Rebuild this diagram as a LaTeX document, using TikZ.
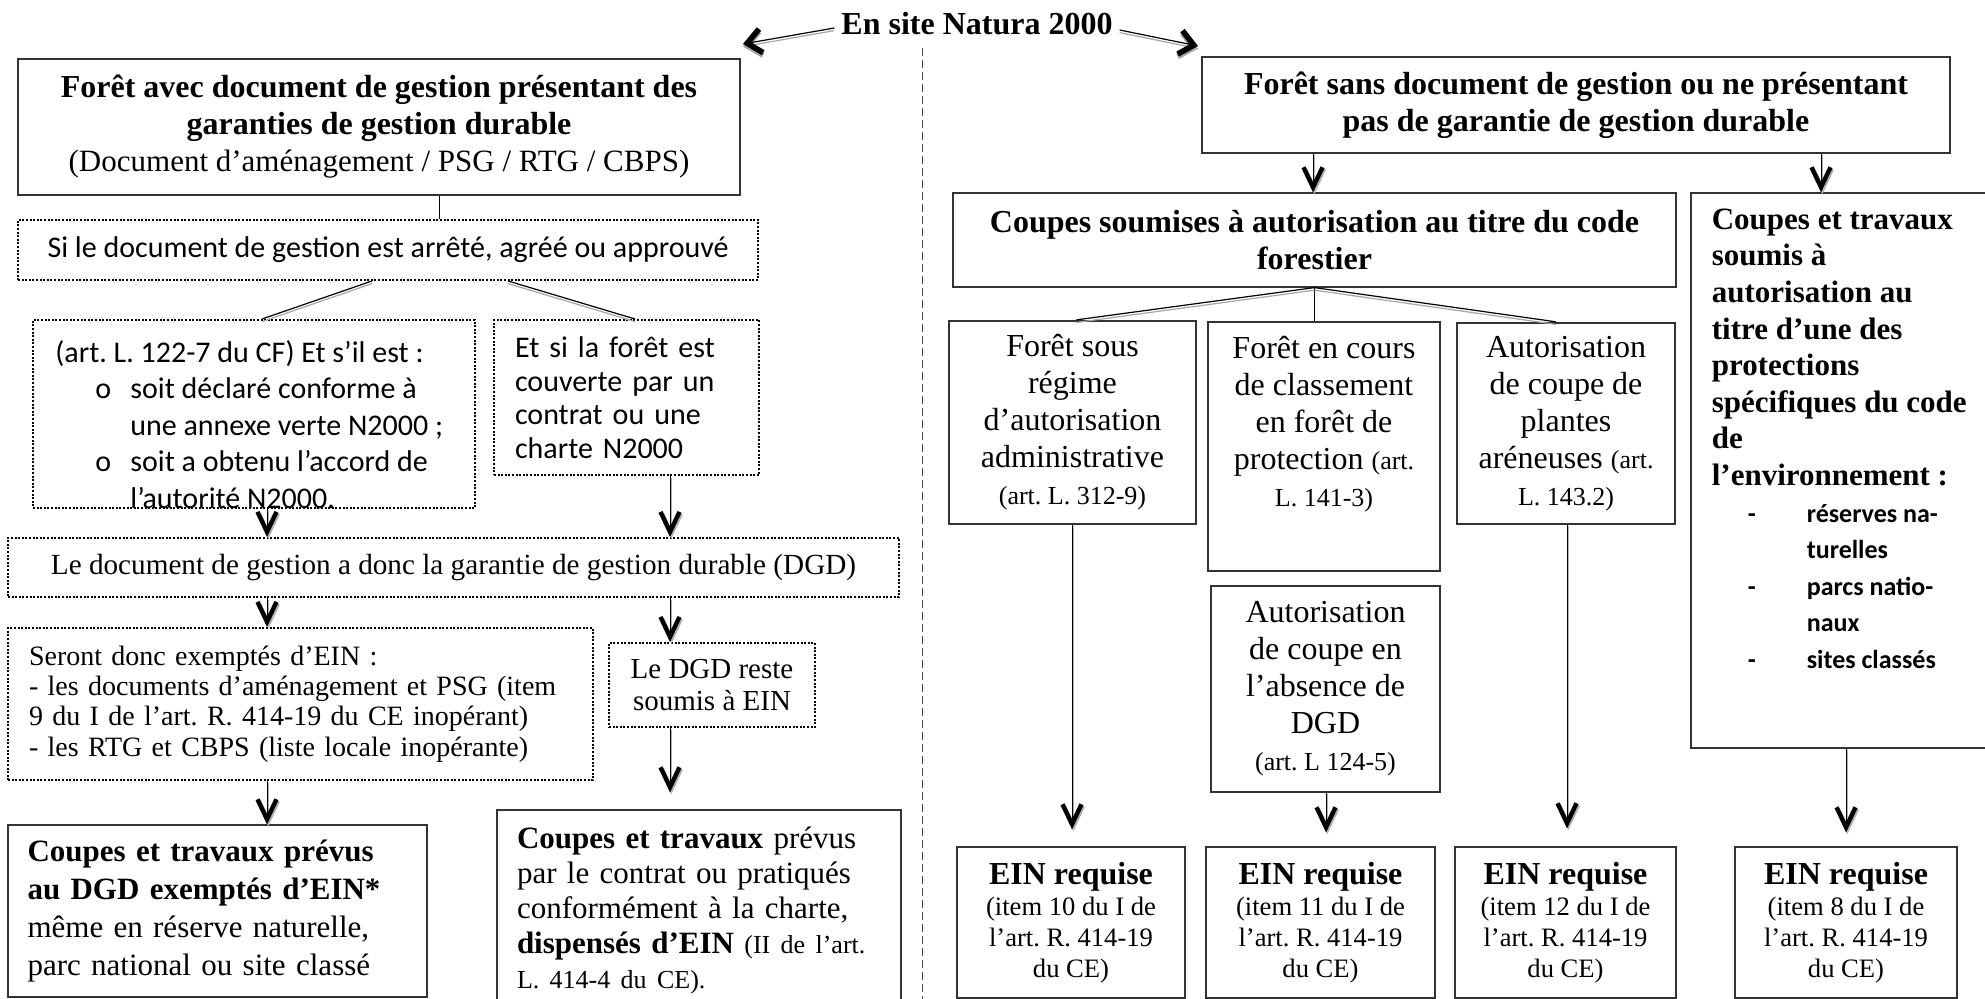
\documentclass[tikz,border=0pt]{standalone}
\usepackage{fontspec}
\setmainfont{Liberation Serif}
\newfontfamily\calibri{Carlito}
\usetikzlibrary{arrows.meta}
\newcommand\szbig{\fontsize{16}{18.5}\selectfont}
\newcommand\szmid{\fontsize{14.5}{16}\selectfont}
\newcommand\szref{\fontsize{13}{15}\selectfont}
\newcommand\szcal{\calibri\fontsize{15}{18.25}\selectfont}
\tikzset{
  plainbox/.style={draw=black!80, line width=0.6pt, inner sep=0pt, align=center},
  dotbox/.style={draw, line width=1pt, dash pattern=on 1pt off 0.8pt, inner sep=0pt, align=center},
  flow/.style={line width=0.5pt, -{Straight Barb[length=10pt,width=9.5pt,line width=2.2pt]},
    preaction={draw=black!30, transform canvas={xshift=0.7pt,yshift=-0.9pt}}},
  twin/.style={line width=0.6pt, preaction={draw=black!35, line width=0.6pt, transform canvas={yshift=-1.3pt}}},
  headarrow/.style={twin, -{Straight Barb[length=7pt,width=12pt,line width=2.8pt]}},
}
\begin{document}
\frenchspacing
\begin{tikzpicture}[x=0.5pt,y=-0.5pt,line join=miter]
  \useasboundingbox (0,0) rectangle (1985,999);
%%
  % columns of the vertical connectors
  \coordinate (colAB) at (439,0);
  \coordinate (colA) at (267,0);
  \coordinate (colB) at (670,0);
  \coordinate (colK) at (1313,0);
  \coordinate (colJL) at (1821,0);
  \coordinate (colM1) at (1072,0);
  \coordinate (colM4) at (1326,0);
  \coordinate (colM3) at (1567,0);
  \coordinate (colL) at (1846,0);
  \coordinate (leftTip) at (743,44);
  \coordinate (rightTip) at (1198,46);
  % Node: En site Natura 2000
  \node[font=\bfseries\fontsize{16}{18}\selectfont] (natura) at (977,24) {En site Natura 2000};
  % Edge: Natura -> left / right
  \draw [headarrow] ([yshift=-2pt]natura.west) -- (leftTip);
  \draw [headarrow] ([yshift=-3pt]natura.east) -- (rightTip);
  % divider
  \draw [black!70, line width=0.5pt, dash pattern=on 4pt off 2pt] (922,48) -- (922,999);
%
  % Node: Foret avec document
  \node[plainbox, minimum width=361pt, minimum height=68pt, font=\szbig] (avecdoc) at (379,127)
    {\textbf{Forêt avec document de gestion présentant des}\\
     \textbf{garanties de gestion durable}\\
     {\fontsize{15.5}{18.5}\selectfont(Document d’aménagement / PSG / RTG / CBPS)}};
  % Node: Si le document
  \node[dotbox, minimum width=370pt, minimum height=30pt, font=\calibri\fontsize{15}{17}\selectfont] (sidoc) at (388,250)
    {Si le document de gestion est arrêté, agréé ou approuvé};
  % Node: art. L. 122-7
  \node[dotbox, minimum width=221pt, minimum height=94pt] (conforme) at (254,414) {};
\begin{scope}
  \clip (conforme.south west) rectangle (conforme.north east);
  \node[anchor=north west, inner sep=0pt, align=left, font=\szcal] (conformetxt) at ([xshift=11.5pt,yshift=-10.5pt]conforme.north west)
    {(art. L. 122-7 du CF) Et s’il est :\\
     \hspace*{20pt}\makebox[17.5pt][l]{o}soit déclaré conforme à\\
     \hspace*{37.5pt}une annexe verte N2000 ;\\
     \hspace*{20pt}\makebox[17.5pt][l]{o}soit a obtenu l’accord de\\
     \hspace*{37.5pt}l’autorité N2000.};
\end{scope}
  % Node: Et si la foret
  \node[dotbox, minimum width=132.5pt, minimum height=77.5pt, text width=111.5pt, align=left, font=\calibri\fontsize{15}{16.8}\selectfont] (charte) at (626.5,397.5)
    {Et si la forêt est\\couverte par un\\contrat ou une\\charte N2000};
  % Node: garantie de gestion durable
  \node[dotbox, minimum width=445.5pt, minimum height=29.5pt, font=\fontsize{14.6}{16}\selectfont] (garantie) at (453.5,567.5)
    {Le document de gestion a donc la garantie de gestion durable (DGD)};
  % Node: Seront donc exemptes
  \node[dotbox, minimum width=292.5pt, minimum height=76pt, text width=271.5pt, align=left, font=\fontsize{14}{15.2}\selectfont] (exemptes) at (300.5,704)
    {Seront donc exemptés d’EIN :\\
     - les documents d’aménagement et PSG (item\\
     9 du I de l’art. R. 414-19 du CE inopérant)\\
     - les RTG et CBPS (liste locale inopérante)};
  % Node: Le DGD reste
  \node[dotbox, minimum width=103pt, minimum height=42pt, font=\szmid] (reste) at (712,685)
    {Le DGD reste\\soumis à EIN};
  % Node: Coupes prevues au DGD
  \node[plainbox, minimum width=209.5pt, minimum height=86pt, text width=190pt, align=left, font=\fontsize{15.5}{19}\selectfont] (prevus) at (217.5,911)
    {\textbf{Coupes et travaux prévus}\\
     \textbf{au DGD exemptés d’EIN*}\\
     même en réserve naturelle,\\
     parc national ou site classé};
  % Node: Coupes prevues par le contrat
  \node[plainbox, minimum width=202pt, minimum height=100pt, text width=182pt, align=left, font=\fontsize{15.5}{17.5}\selectfont] (contrat) at (699,910)
    {\textbf{Coupes et travaux} prévus\\
     par le contrat ou pratiqués\\
     conformément à la charte,\\
     \textbf{dispensés d’EIN} {\szref(II de l’art.}\\
     {\szref L. 414-4 du CE).}};
%
  % Edge: avecdoc -> sidoc
  \draw [line width=0.5pt] (avecdoc.south -| colAB) -- (sidoc.north -| colAB);
  % Edge: sidoc -> conforme, charte
  \draw [twin] ([xshift=-8pt]sidoc.south) -- ([xshift=4pt]conforme.north);
  \draw [twin] ([xshift=60pt]sidoc.south) -- ([xshift=4.25pt]charte.north);
  % Edge: conforme, charte -> garantie
  \draw [flow] (conforme.south -| colA) -- (garantie.north -| colA);
  \draw [flow] (charte.south -| colB) -- (garantie.north -| colB);
  % Edge: garantie -> exemptes, reste
  \draw [flow] (garantie.south -| colA) -- (exemptes.north -| colA);
  \draw [flow] (garantie.south -| colB) -- (reste.north -| colB);
  % Edge: exemptes -> prevus
  \draw [flow] (exemptes.south -| colA) -- (prevus.north -| colA);
  % Edge: reste -> contrat
  \draw [flow, shorten >=8.5pt] (reste.south -| colB) -- (contrat.north -| colB);
%%
  % Node: Foret sans document
  \node[plainbox, minimum width=374pt, minimum height=48pt, font=\bfseries\szbig] (sansdoc) at (1576,105)
    {Forêt sans document de gestion ou ne présentant\\pas de garantie de gestion durable};
  % Node: Coupes soumises au code forestier
  \node[plainbox, minimum width=361.5pt, minimum height=47pt, font=\bfseries\szbig] (codefor) at (1314.5,240)
    {Coupes soumises à autorisation au titre du code\\forestier};
  % Node: protections specifiques
  \node[plainbox, minimum width=160pt, minimum height=277.5pt] (protect) at (1851,470.5) {};
  \node[anchor=north west, inner sep=0pt, align=left, font=\bfseries\fontsize{15.5}{18.3}\selectfont] (protecttxt) at ([xshift=10.5pt,yshift=-8pt]protect.north west)
    {Coupes et travaux\\
     soumis à\\
     autorisation au\\
     titre d’une des\\
     protections\\
     spécifiques du code\\
     de\\
     l’environnement :\\
     {\calibri\fontsize{13}{18.3}\selectfont\hspace*{18pt}\makebox[29.5pt][l]{-}réserves na-}\\
     {\calibri\fontsize{13}{18.3}\selectfont\hspace*{47.5pt}turelles}\\
     {\calibri\fontsize{13}{18.3}\selectfont\hspace*{18pt}\makebox[29.5pt][l]{-}parcs natio-}\\
     {\calibri\fontsize{13}{18.3}\selectfont\hspace*{47.5pt}naux}\\
     {\calibri\fontsize{13}{18.3}\selectfont\hspace*{18pt}\makebox[29.5pt][l]{-}sites classés}};
  % Node: regime d'autorisation
  \node[plainbox, minimum width=123.5pt, minimum height=101.5pt, font=\szbig] (regime) at (1072.5,422.5)
    {Forêt sous\\régime\\d’autorisation\\administrative\\{\szref (art. L. 312-9)}};
  % Node: en cours de classement
  \node[plainbox, minimum width=116pt, minimum height=124.5pt] (classement) at (1324,446.5) {};
  \node[align=center, inner sep=0pt, font=\szbig] (classementtxt) at (1324,424)
    {Forêt en cours\\de classement\\en forêt de\\protection {\szref (art.}\\{\szref L. 141-3)}};
  % Node: plantes areneuses
  \node[plainbox, minimum width=109pt, minimum height=100.5pt, font=\szbig] (areneuses) at (1566,423.5)
    {Autorisation\\de coupe de\\plantes\\aréneuses {\szref (art.}\\{\szref L. 143.2)}};
  % Node: absence de DGD
  \node[plainbox, minimum width=114.5pt, minimum height=103pt, font=\szbig] (absence) at (1325.5,689)
    {Autorisation\\de coupe en\\l’absence de\\DGD\\{\szref (art. L 124-5)}};
  % Node: EIN requise (x4)
  \node[plainbox, minimum width=114pt, minimum height=75.5pt, font=\fontsize{13.3}{15.5}\selectfont] (ein10) at (1071,922.5)
    {{\bfseries\fontsize{16}{19}\selectfont EIN requise}\\(item 10 du I de\\l’art. R. 414-19\\du CE)};
  \node[plainbox, minimum width=114.5pt, minimum height=75.5pt, font=\fontsize{13.3}{15.5}\selectfont] (ein11) at (1320.5,922.5)
    {{\bfseries\fontsize{16}{19}\selectfont EIN requise}\\(item 11 du I de\\l’art. R. 414-19\\du CE)};
  \node[plainbox, minimum width=110.5pt, minimum height=75.5pt, font=\fontsize{13.3}{15.5}\selectfont] (ein12) at (1565.5,922.5)
    {{\bfseries\fontsize{16}{19}\selectfont EIN requise}\\(item 12 du I de\\l’art. R. 414-19\\du CE)};
  \node[plainbox, minimum width=111pt, minimum height=75.5pt, font=\fontsize{13.3}{15.5}\selectfont] (ein8) at (1846,922.5)
    {{\bfseries\fontsize{16}{19}\selectfont EIN requise}\\(item 8 du I de\\l’art. R. 414-19\\du CE)};
%
  % Edge: sansdoc -> codefor, protect
  \draw [flow] (sansdoc.south -| colK) -- (codefor.north -| colK);
  \draw [flow] (sansdoc.south -| colJL) -- (protect.north -| colJL);
  % Edge: codefor -> regime, classement, areneuses
  \draw [twin, shorten >=2pt] (codefor.south) -- (regime.north);
  \draw [line width=0.5pt] (codefor.south) -- (codefor.south |- classement.north);
  \draw [twin, shorten >=2pt] (codefor.south) -- ([xshift=-3pt]areneuses.north);
  % Edge: -> EIN requise
  \draw [flow, shorten >=8.5pt] (regime.south -| colM1) -- (ein10.north -| colM1);
  \draw [flow, shorten >=7pt] (absence.south -| colM4) -- (ein11.north -| colM4);
  \draw [flow, shorten >=9pt] (areneuses.south -| colM3) -- (ein12.north -| colM3);
  \draw [flow, shorten >=7pt] (protect.south -| colL) -- (ein8.north -| colL);
%
\end{tikzpicture}
\end{document}
